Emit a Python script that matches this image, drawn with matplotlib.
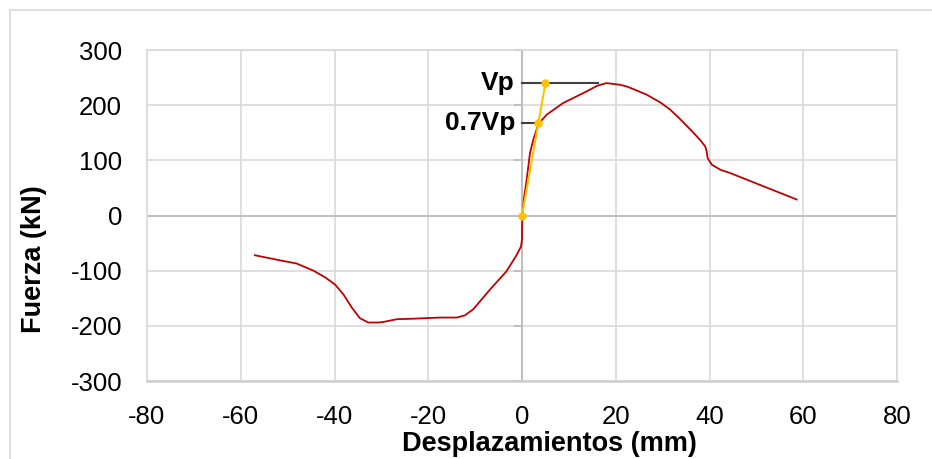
import matplotlib
matplotlib.use("Agg")
import matplotlib.pyplot as plt
from matplotlib.lines import Line2D
import numpy as np

plt.rcParams['font.family'] = ['Liberation Sans', 'DejaVu Sans']
plt.rcParams['axes.unicode_minus'] = False

# Curve data (Desplazamientos mm, Fuerza kN)
disp = [-57.0, -52.4, -48.1, -44.5, -42.0, -39.9, -38.1, -36.3, -34.6, -32.8,
        -30.7, -29.6, -26.7, -23.0, -20.3, -17.5, -13.9, -12.2, -10.4, -6.8,
        -3.3, -1.1, -0.2, 0.0, 0.0, 0.1, 0.4, 1.0, 1.7, 2.4,
        3.5, 5.3, 8.8, 13.8, 16.0, 18.0, 20.9, 22.3, 23.8, 26.6,
        29.5, 31.6, 33.7, 35.9, 38.0, 39.1, 39.4, 39.6, 40.5, 42.3,
        44.4, 51.5, 58.6]
force = [-72, -80, -87, -100, -112, -125, -143, -167, -186, -194,
         -194, -193, -188, -187, -186, -185, -185, -181, -170, -134,
         -101, -71, -56, -43, -25, 0, 30, 65, 113, 137,
         166, 183, 204, 225, 235, 240, 237, 234, 229, 219,
         205, 192, 175, 156, 137, 125, 116, 104, 92, 83,
         77, 53, 29]

# Vp construction
vp = 240
vp07 = 168
yellow_x = [0.0, 3.5, 5.0]
yellow_y = [0, vp07, vp]
vp_line_x = [0.0, 16.2]
vp07_line_x = [0.0, 3.5]

xticks = [-80, -60, -40, -20, 0, 20, 40, 60, 80]
yticks = [-300, -200, -100, 0, 100, 200, 300]

W, H = 932, 459
fig = plt.figure(figsize=(W / 100, H / 100), dpi=100)
ax = fig.add_axes([147 / W, 1 - 381 / H, (897 - 147) / W, (381 - 50) / H])

ax.set_xlim(-80, 80)
ax.set_ylim(-300, 300)
ax.set_xticks(xticks)
ax.set_yticks(yticks)
ax.grid(True, color='#d9d9d9', linewidth=1.2)
ax.set_axisbelow(True)
for s in ax.spines.values():
    s.set_color('#d9d9d9')
    s.set_linewidth(1.2)
ax.spines['bottom'].set_color('#cfcfcf')
ax.spines['bottom'].set_linewidth(1.8)
ax.tick_params(length=0, labelsize=18.5, colors='black', pad=17)
ax.tick_params(axis='y', pad=18)

# zero axes
ax.axhline(0, color='#bfbfbf', linewidth=1.5, zorder=1)
ax.axvline(0, color='#bfbfbf', linewidth=1.5, zorder=1)
ax.plot([0] * len(yticks), yticks, linestyle='none', marker=0, markersize=6,
        color='#bfbfbf', markeredgewidth=1.5, clip_on=False, zorder=1)

# curve
ax.plot(disp, force, color='#c00000', linewidth=1.3, zorder=3,
        solid_joinstyle='round')

# Vp lines
ax.plot(vp_line_x, [vp, vp], color='#404040', linewidth=1.5, zorder=2)
ax.plot(vp07_line_x, [vp07, vp07], color='#404040', linewidth=1.5, zorder=2)
ax.plot(yellow_x, yellow_y, color='#ffc000', linewidth=1.5, marker='o',
        markersize=5, zorder=4)

ax.annotate('Vp', xy=(0, vp), xytext=(-5, 0), textcoords='offset points',
            ha='right', va='center', fontsize=19, fontweight='bold')
ax.annotate('0.7Vp', xy=(0, vp07), xytext=(-5, 0), textcoords='offset points',
            ha='right', va='center', fontsize=19, fontweight='bold')

fig.text(549 / W, 1 - 444 / H, 'Desplazamientos (mm)', ha='center', va='center',
         fontsize=19.5, fontweight='bold')
fig.text(34 / W, 1 - 259 / H, 'Fuerza (kN)', ha='center', va='center',
         rotation=90, fontsize=19.5, fontweight='bold')

# outer frame
fig.add_artist(Line2D([10 / W, 1], [1 - 10 / H, 1 - 10 / H], color='#d9d9d9',
                      linewidth=1.2, transform=fig.transFigure))
fig.add_artist(Line2D([10 / W, 10 / W], [0, 1 - 10 / H], color='#d9d9d9',
                      linewidth=1.2, transform=fig.transFigure))

fig.savefig('out.png', dpi=100)
